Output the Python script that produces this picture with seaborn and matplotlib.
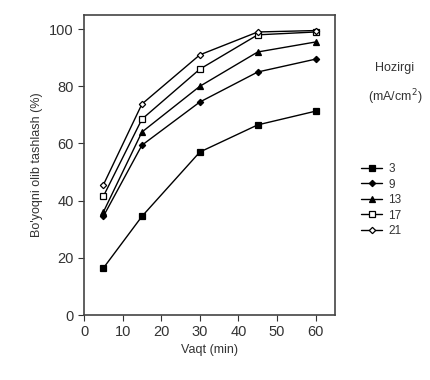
import matplotlib
matplotlib.use("Agg")
import matplotlib.pyplot as plt
import seaborn as sns
import pandas as pd

time_min = [5, 15, 30, 45, 60]
currents = ["3", "9", "13", "17", "21"]
removal_3 = [16.4, 34.5, 57.0, 66.5, 71.3]
removal_9 = [34.5, 59.4, 74.5, 85.0, 89.5]
removal_13 = [36.0, 64.0, 80.0, 92.0, 95.5]
removal_17 = [41.5, 68.5, 86.0, 98.0, 99.0]
removal_21 = [45.5, 73.8, 91.0, 99.0, 99.5]

series = [removal_3, removal_9, removal_13, removal_17, removal_21]
rows = []
for c, vals in zip(currents, series):
    for t, v in zip(time_min, vals):
        rows.append({"time": t, "removal": v, "current": c})
df = pd.DataFrame(rows)

sns.set_style("ticks")
plt.rcParams['font.family'] = ['Liberation Sans', 'DejaVu Sans']

fig = plt.figure(figsize=(4.31, 3.8), dpi=100)
ax = fig.add_axes([0.195, 0.171, 0.582, 0.79])

markers = {"3": "s", "9": "D", "13": "^", "17": "s", "21": "D"}
faces = {"3": "black", "9": "black", "13": "black", "17": "white", "21": "white"}
sizes = {"3": 5, "9": 4, "13": 5.5, "17": 5, "21": 4}

for c in currents:
    d = df[df.current == c]
    sns.lineplot(data=d, x="time", y="removal", ax=ax, color="black", lw=1.0,
                 marker=markers[c], markersize=sizes[c], markerfacecolor=faces[c],
                 markeredgecolor="black", markeredgewidth=0.9, label=c)

ax.set_xlim(0, 65)
ax.set_ylim(0, 105)
ax.set_xticks([0, 10, 20, 30, 40, 50, 60])
ax.set_yticks([0, 20, 40, 60, 80, 100])
ax.tick_params(labelsize=10.5, colors="#333333", direction="out", length=4)
for s in ax.spines.values():
    s.set_color("#444444")
    s.set_linewidth(1.2)
ax.set_xlabel("Vaqt (min)", fontsize=9, color="#333333", labelpad=3)
ax.set_ylabel("Bo'yoqni olib tashlash (%)", fontsize=9, color="#333333")

handles, labels = ax.get_legend_handles_labels()
for h in handles:
    h.set_markersize(h.get_markersize() * 0.8)
ax.legend(handles, labels, loc="upper left", bbox_to_anchor=(361 / 431, 1 - 163 / 380),
          bbox_transform=fig.transFigure,
          frameon=False, fontsize=8.5, handlelength=1.8, handletextpad=0.5,
          labelspacing=0.3, borderaxespad=0, borderpad=0)
leg = ax.get_legend()
for t in leg.get_texts():
    t.set_color("#333333")

fig.text(395 / 431, 1 - 68 / 380, "Hozirgi", ha="center", va="center", fontsize=9, color="#333333")
fig.text(395 / 431, 1 - 97 / 380, "(mA/cm$^2$)", ha="center", va="center", fontsize=9, color="#333333")

fig.savefig("out.png", dpi=100)
